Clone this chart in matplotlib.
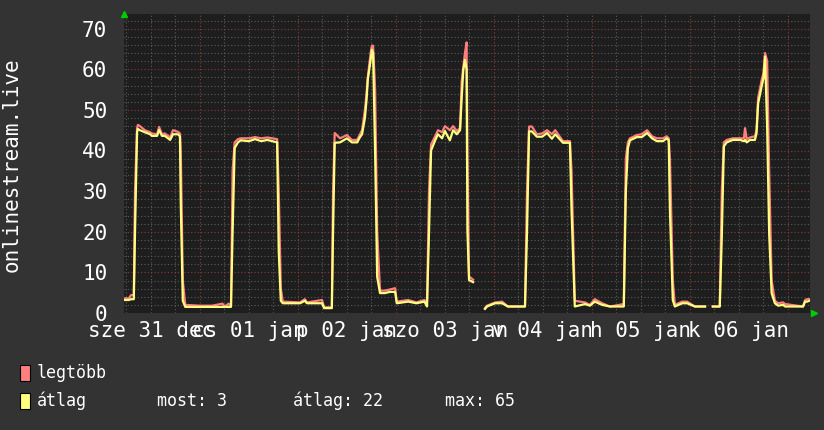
import numpy as np
import matplotlib.pyplot as plt
from matplotlib.patches import Rectangle

# hours counted from 2015-01-01 00:00
hours = [
    -18.6, -17.4, -16.9, -16.2, -15.9, -15.4, -15.2, -14.7, -13.5, -12.2,
    -11.8, -10.5, -10.0, -9.3, -8.6, -7.3, -6.6, -5.4, -4.9, -4.7,
    -4.2, -3.6, 0.0, 3.0, 5.5, 6.1, 7.0, 7.6, 8.0, 8.5,
    9.3, 10.0, 12.0, 13.5, 15.0, 16.5, 18.9, 19.3, 19.8, 20.3,
    24.5, 25.7, 26.2, 29.9, 30.4, 32.3, 32.6, 33.0, 34.3, 36.0,
    37.2, 38.5, 39.2, 39.7, 40.4, 40.8, 41.1, 41.8, 42.1, 42.4,
    42.9, 43.4, 44.1, 45.3, 46.5, 47.8, 48.2, 51.0, 53.0, 55.0,
    55.6, 56.1, 56.6, 57.6, 58.3, 59.3, 60.0, 61.2, 62.0, 62.9,
    63.7, 64.1, 64.5, 64.9, 65.3, 65.5, 65.9, 66.9, 67.2, 69.8,
    70.3, 72.3, 74.0, 75.4, 79.6, 80.1, 80.6, 81.3, 82.5, 83.8,
    85.0, 86.2, 87.0, 88.9, 90.6, 91.0, 91.8, 94.3, 95.5, 96.7,
    98.5, 100.4, 103.8, 104.3, 104.8, 105.3, 107.0, 108.2, 109.5, 110.7,
    111.9, 113.4, 114.3, 114.8, 115.1, 115.8, 116.3, 118.1, 119.3, 121.2,
    123.7, 124.5, 125.6, 127.3, 127.8, 128.3, 129.0, 130.5, 132.3, 133.2,
    133.5, 133.9, 134.7, 135.9, 136.3, 136.7, 137.6, 138.0, 138.4, 138.9,
    139.4, 140.0, 140.8, 141.6, 142.8, 143.3, 147.7, 148.2, 148.7, 149.2,
]
avg = [
    3.2, 3.2, 3.4, 3.4, 20.0, 44.5, 45.3, 45.0, 44.5, 44.0,
    43.6, 43.6, 45.0, 43.6, 43.6, 42.6, 44.0, 44.0, 43.5, 27.0,
    3.0, 1.5, 1.5, 1.5, 1.5, 1.5, 1.5, 1.5, 20.0, 40.6,
    42.0, 42.5, 42.3, 42.8, 42.3, 42.6, 42.0, 15.0, 3.0, 2.4,
    2.4, 3.0, 2.4, 2.4, 1.2, 1.2, 20.0, 41.9, 42.0, 43.0,
    42.0, 42.0, 43.3, 44.0, 48.0, 52.5, 57.4, 62.3, 64.8, 64.0,
    39.4, 8.9, 4.9, 4.9, 5.2, 5.2, 2.4, 2.8, 2.4, 2.8,
    1.6, 20.0, 40.0, 42.5, 44.0, 43.0, 44.8, 42.5, 45.0, 44.0,
    45.0, 53.0, 59.9, 62.3, 60.0, 20.4, 8.1, 7.6, np.nan, 1.0,
    1.6, 2.4, 2.4, 1.6, 1.6, 20.0, 44.7, 44.7, 43.4, 43.4,
    44.3, 42.9, 44.0, 41.9, 41.9, 25.4, 1.6, 2.2, 1.8, 2.8,
    2.0, 1.6, 1.6, 30.0, 40.6, 42.5, 43.3, 43.3, 44.3, 43.0,
    42.3, 42.3, 43.0, 42.5, 25.0, 3.2, 1.6, 2.4, 2.4, 1.6,
    1.6, np.nan, 1.6, 1.6, 18.8, 41.0, 42.0, 42.6, 42.6, 42.3,
    42.6, 42.0, 42.6, 42.6, 44.2, 51.6, 56.0, 57.8, 63.1, 45.9,
    19.6, 4.9, 2.4, 1.8, 2.0, 1.6, 1.6, 2.8, 2.8, 3.0,
]
peak = [
    3.6, 3.6, 4.4, 4.4, 30.0, 45.5, 46.3, 46.0, 45.0, 44.5,
    44.2, 44.0, 45.8, 44.0, 44.2, 43.2, 45.0, 44.6, 44.2, 40.0,
    8.0, 2.0, 1.8, 1.8, 2.3, 1.6, 2.3, 1.8, 35.0, 42.0,
    42.8, 43.0, 43.0, 43.3, 43.0, 43.2, 42.8, 30.0, 6.0, 2.8,
    2.6, 3.4, 2.6, 3.2, 1.4, 1.4, 30.0, 44.3, 43.0, 43.8,
    42.6, 42.6, 44.0, 45.0, 50.0, 54.0, 58.0, 64.0, 65.8, 65.8,
    55.0, 20.0, 5.5, 5.5, 5.8, 6.1, 2.8, 3.2, 2.6, 3.2,
    1.8, 30.0, 41.5, 43.5, 45.0, 44.5, 46.0, 45.0, 46.0, 44.8,
    45.5, 57.0, 60.5, 64.0, 66.6, 40.0, 9.0, 8.2, np.nan, 1.2,
    1.8, 2.6, 2.8, 1.6, 1.6, 30.0, 45.9, 45.9, 44.0, 44.2,
    45.0, 44.0, 45.0, 42.3, 42.3, 35.0, 3.0, 2.6, 2.0, 3.4,
    2.4, 1.6, 2.2, 38.0, 42.0, 43.0, 43.8, 44.0, 45.0, 43.5,
    43.0, 43.0, 43.5, 43.0, 38.0, 8.0, 2.0, 2.8, 2.8, 1.6,
    1.6, np.nan, 1.6, 1.6, 30.0, 42.0, 42.6, 43.0, 43.0, 43.0,
    45.5, 42.8, 43.2, 43.5, 45.0, 53.0, 57.5, 59.0, 64.0, 62.0,
    35.0, 8.0, 3.0, 2.4, 2.6, 2.2, 1.6, 3.2, 3.4, 3.4,
]

day_labels = ["sze 31 dec", "cs 01 jan", "p 02 jan", "szo 03 jan",
              "v 04 jan", "h 05 jan", "k 06 jan"]
label_hours = [-12, 12, 36, 60, 84, 108, 132]
y_ticks = [0, 10, 20, 30, 40, 50, 60, 70]

BG = '#333333'
CANVAS = '#1e1e1e'
MAX_COLOR = '#ff7f7f'
AVG_COLOR = '#ffff7f'
MONO = 'DejaVu Sans Mono'

fig = plt.figure(figsize=(8.24, 4.30), dpi=100, facecolor=BG)
ax = fig.add_axes([124 / 824, 117 / 430, 686 / 824, 299 / 430], facecolor=CANVAS)
ax.set_xlim(-18.6, 149.4)
ax.set_ylim(0, 73.6)

# grid: minor grey, major red, both dotted
for h in np.arange(-18, 150, 6):
    if h % 24 != 0:
        ax.axvline(h, color='#5c5c5c', lw=0.8, ls=(0, (1, 2)), zorder=1)
for v in np.arange(2, 74, 2):
    if v % 10 != 0:
        ax.axhline(v, color='#5c5c5c', lw=0.8, ls=(0, (1, 2)), zorder=1)
for h in np.arange(0, 150, 24):
    ax.axvline(h, color='#8c3b3b', lw=0.8, ls=(0, (1, 2)), zorder=1)
for v in y_ticks[1:]:
    ax.axhline(v, color='#8c3b3b', lw=0.8, ls=(0, (1, 2)), zorder=1)

ax.plot(hours, peak, color=MAX_COLOR, lw=1.6, zorder=3)
ax.plot(hours, avg, color=AVG_COLOR, lw=1.6, zorder=4)

for s in ax.spines.values():
    s.set_visible(False)
ax.set_xticks([])
ax.set_yticks(y_ticks)
ax.set_yticklabels([str(v) for v in y_ticks], family=MONO, fontsize=15, color='white')
ax.tick_params(axis='y', length=0, pad=12)

# rrdtool style day labels, centred at noon (they overlap in the original too)
for h, lab in zip(label_hours, day_labels):
    ax.text(h, -0.06, lab, transform=ax.get_xaxis_transform(), ha='center', va='center',
            family=MONO, fontsize=15, color='white')

fig.text(12 / 824, 1 - 165 / 430, 'onlinestream.live', rotation=90, ha='center', va='center',
         family=MONO, fontsize=15, color='white')

# arrows at axis ends
ax.plot([0], [1.0], marker='^', color='#00cc00', ms=5, transform=ax.transAxes, clip_on=False)
ax.plot([1.006], [0.0], marker='>', color='#00cc00', ms=5, transform=ax.transAxes, clip_on=False)

# legend
for y0, col in [(365, MAX_COLOR), (393, AVG_COLOR)]:
    fig.patches.append(Rectangle((20 / 824, 1 - (y0 + 16) / 430), 10 / 824, 16 / 430,
                                 transform=fig.transFigure, facecolor=col,
                                 edgecolor='black', lw=0.8))
legend_font = dict(family=MONO, fontsize=12, color='white', va='center')
fig.text(37 / 824, 1 - 373 / 430, 'legtöbb', **legend_font)
fig.text(37 / 824, 1 - 401 / 430, 'átlag', **legend_font)
fig.text(157 / 824, 1 - 401 / 430, 'most: 3', **legend_font)
fig.text(293 / 824, 1 - 401 / 430, 'átlag: 22', **legend_font)
fig.text(445 / 824, 1 - 401 / 430, 'max: 65', **legend_font)

fig.savefig('out.png', dpi=100, facecolor=BG)
